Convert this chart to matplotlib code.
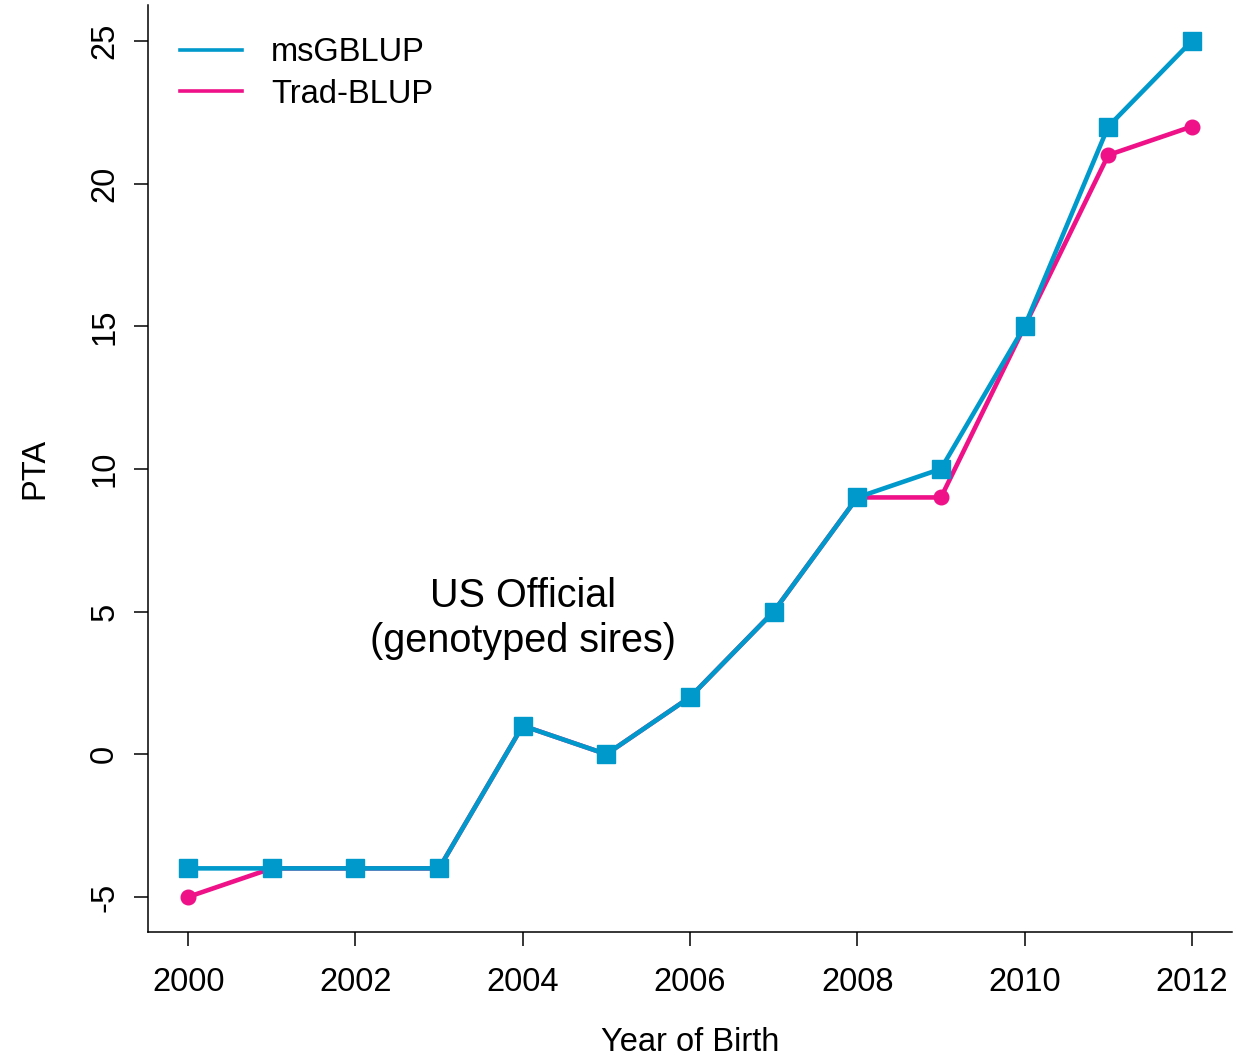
import matplotlib
matplotlib.use("Agg")
import matplotlib.pyplot as plt

plt.rcParams['font.family'] = ['Liberation Sans', 'DejaVu Sans']
plt.rcParams['axes.unicode_minus'] = False

## Donnees
annees = [2000, 2001, 2002, 2003, 2004, 2005, 2006, 2007, 2008, 2009, 2010, 2011, 2012]
ms_gblup = [-4, -4, -4, -4, 1, 0, 2, 5, 9, 10, 15, 22, 25]
trad_blup = [-5, -4, -4, -4, 1, 0, 2, 5, 9, 9, 15, 21, 22]
x_ticks = [2000, 2002, 2004, 2006, 2008, 2010, 2012]
y_ticks = [-5, 0, 5, 10, 15, 20, 25]

bleu = '#0099cc'
rose = '#ee1188'

## Figure
fig = plt.figure(figsize=(12.46, 10.61), dpi=100)
ax = fig.add_axes([0.1188, 0.1216, 0.870, 0.8737])

ax.plot(annees, trad_blup, color=rose, lw=3.3, marker='o', ms=10.5, label='Trad-BLUP', zorder=3)
ax.plot(annees, ms_gblup, color=bleu, lw=3.3, marker='s', ms=13, label='msGBLUP', zorder=4)

ax.set_xlim(1999.52, 2012.48)
ax.set_ylim(-6.23, 26.26)
ax.set_xticks(x_ticks)
ax.set_yticks(y_ticks)
ax.tick_params(direction='out', length=10, width=1.1, labelsize=23.5, pad=10)
ax.tick_params(axis='x', pad=15)
for lab in ax.get_yticklabels():
    lab.set_rotation(90)
    lab.set_va('center')

for s in ['top', 'right']:
    ax.spines[s].set_visible(False)
for s in ['left', 'bottom']:
    ax.spines[s].set_linewidth(1.1)

ax.set_xlabel('Year of Birth', fontsize=23.5, labelpad=21)
ax.set_ylabel('PTA', fontsize=23.5, labelpad=28)

ax.text(2004.0, 4.75, 'US Official\n(genotyped sires)', fontsize=28.5,
        ha='center', va='center', linespacing=1.25)

# legende sans marqueurs
h1, = ax.plot([], [], color=bleu, lw=2.6)
h2, = ax.plot([], [], color=rose, lw=2.6)
ax.legend([h1, h2], ['msGBLUP', 'Trad-BLUP'], loc='upper left', frameon=False,
          fontsize=23.5, handlelength=1.9, handletextpad=0.9, labelspacing=0.33,
          borderaxespad=0.3, bbox_to_anchor=(0.008, 0.99))

fig.savefig('out.png', dpi=100)
